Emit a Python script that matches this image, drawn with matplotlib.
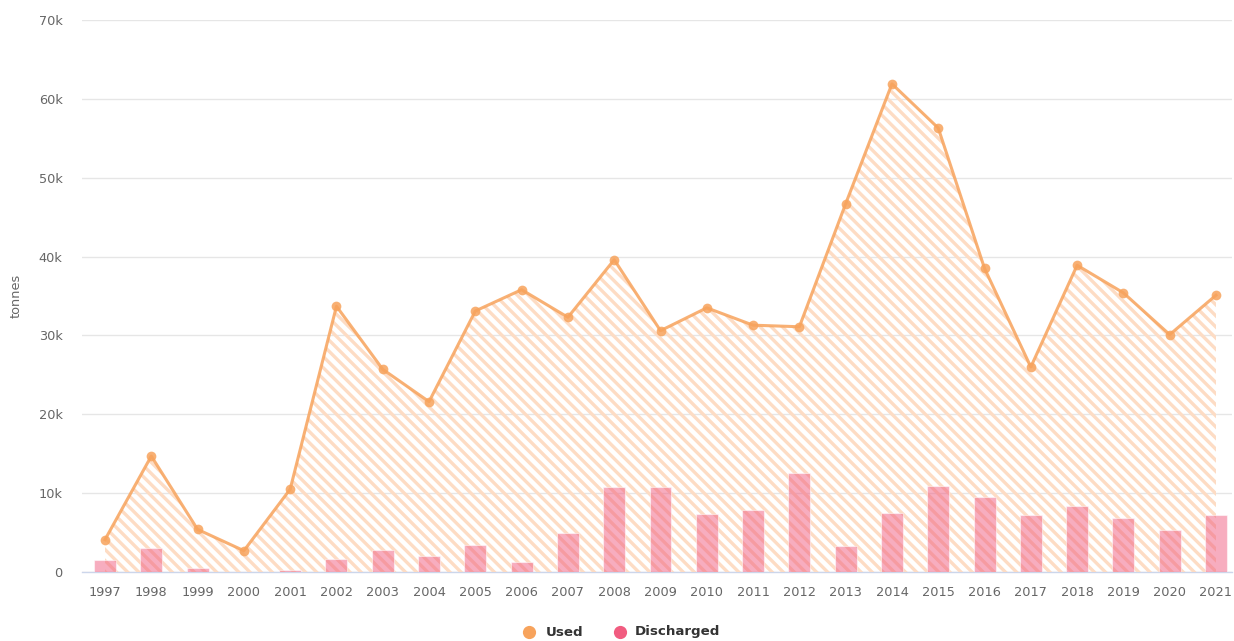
import matplotlib
matplotlib.use("Agg")
import matplotlib.pyplot as plt
from matplotlib.lines import Line2D
import numpy as np

years = [str(y) for y in range(1997, 2022)]
used = [4.1, 14.7, 5.4, 2.7, 10.5, 33.7, 25.7, 21.6, 33.1, 35.8, 32.3, 39.6, 30.6,
        33.5, 31.3, 31.1, 46.7, 61.9, 56.3, 38.5, 26.0, 38.9, 35.4, 30.1, 35.1]
discharged = [1.5, 3.1, 0.5, 0.0, 0.2, 1.65, 2.8, 2.0, 3.4, 1.3, 4.9, 10.8, 10.8,
              7.4, 7.9, 12.6, 3.3, 7.5, 10.95, 9.5, 7.2, 8.4, 6.9, 5.3, 7.2]
used = [v * 1000 for v in used]
discharged = [v * 1000 for v in discharged]

W, H = 1234, 641
fig = plt.figure(figsize=(W / 100, H / 100), dpi=100)
ax_l, ax_r, ax_b, ax_t = 82, 1232, 572, 20
ax = fig.add_axes([ax_l / W, (H - ax_b) / H, (ax_r - ax_l) / W, (ax_b - ax_t) / H])

x = np.arange(len(years))
ppu = (1216 - 105) / 24
ax.set_xlim(-(105 - ax_l) / ppu, 24 + (ax_r - 1216) / ppu)
ax.set_ylim(0, 70000)

orange = "#f7a35c"
pink = "#f15c80"

plt.rcParams['hatch.linewidth'] = 2.4
ax.fill_between(x, 0, used, facecolor="none", edgecolor="#fddcc4", hatch="\\\\\\",
                linewidth=0, zorder=1)
ax.bar(x, discharged, width=0.475, color=pink, alpha=0.5, edgecolor="white",
       linewidth=0.8, zorder=2)
ax.plot(x, used, color=orange, lw=2.2, alpha=0.85, marker="o", markersize=7,
        markeredgewidth=0, zorder=3)

ax.set_yticks(np.arange(0, 70001, 10000))
ax.set_yticklabels(["0"] + [f"{k}k" for k in range(10, 71, 10)])
ax.set_xticks(x)
ax.set_xticklabels(years)
ax.grid(axis="y", color="#e6e6e6", lw=1)
ax.set_axisbelow(True)
for s in ["top", "right", "left"]:
    ax.spines[s].set_visible(False)
ax.spines["bottom"].set_color("#ccd6eb")
ax.spines["bottom"].set_linewidth(1)
ax.spines["bottom"].set_zorder(0.5)
ax.tick_params(axis="both", length=0, colors="#666666", labelsize=9.3)
ax.tick_params(axis="y", pad=14)
ax.tick_params(axis="x", pad=10)
ax.set_ylabel("tonnes", color="#666666", fontsize=9.3)
ax.yaxis.set_label_coords(-(ax_l - 23) / (ax_r - ax_l), 0.5)

# legend
ly = (H - 632) / H
for cx, col in [(529, orange), (620, pink)]:
    fig.add_artist(Line2D([cx / W], [ly], marker="o", color="none", markerfacecolor=col,
                          markeredgewidth=0, markersize=9.5, transform=fig.transFigure))
fig.text(546 / W, ly, "Used", ha="left", va="center", fontsize=9.6,
         fontweight="bold", color="#333333")
fig.text(635 / W, ly, "Discharged", ha="left", va="center", fontsize=9.6,
         fontweight="bold", color="#333333")

fig.savefig("out.png", dpi=100)
